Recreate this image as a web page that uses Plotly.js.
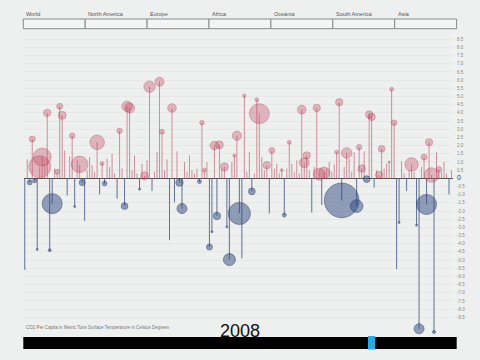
<!DOCTYPE html>
<html><head><meta charset="utf-8">
<script src="https://cdn.plot.ly/plotly-3.0.1.min.js"></script>
<style>html,body{margin:0;padding:0;background:#eef0ef;}#chart{width:480px;height:360px;}</style>
</head><body><div id="chart"></div>
<script>
const regions = ["World","North America","Europe","Africa","Oceania","South America","Asia"];
const year = "2008";
const caption = "CO2 Per Capita in Metric Tons Surface Temperature in Celsius Degrees";

// surface temperature change per country (stem height)
const temperature = [
 -5.6, 1.16, -0.25, 2.4, -0.15, -4.35, 0.7, 1.3, 0.9, 4.0,
 -4.4, -1.55, 0.6, 0.4, 4.4, 3.85, 1.7, -1.05, 1.35, 2.6,
 -1.73, 1.1, 0.85, -0.26, -2.6, 0.5, 1.3, 0.8, 0.4, 2.2,
 -0.98, 0.9, -0.32, 1.2, 0.7, 1.5, 0.3, -1.25, 2.9, 0.6,
 -1.7, 4.4, 4.3, 0.5, 1.4, 0.3, -0.67, 0.9, 0.15, 1.1,
 5.6, -0.78, 0.4, 1.6, 5.9, 2.85, 0.5, 1.15, -3.78, 4.3,
 -1.48, 1.65, -0.26, -1.85, 1.0, 0.4, 1.4, 0.5, 0.3, 0.6,
 -0.2, 3.4, 0.5, 1.0, -4.2, -3.27, 2.0, -2.3, 2.05, 0.6,
 0.7, -2.97, -4.97, 1.0, 1.4, 2.6, -2.15, -4.9, 5.05, 0.4,
 1.6, -0.8, 0.3, 4.8, 3.95, 1.3, 0.5, 0.8, -2.15, 1.7,
 0.6, 0.9, 0.3, 0.5, -2.25, 0.6, 2.2, 0.9, 0.4, 1.1,
 0.3, 4.2, 0.95, 1.4, 0.5, -2.1, 0.7, 4.3, 0.25, -1.63,
 0.35, 0.6, 1.0, 0.4, 0.85, 1.6, 4.65, -1.35, 0.7, 1.55,
 1.2, 0.4, 1.6, -1.7, 1.9, 0.6, 1.65, -0.05, 3.9, 3.75,
 -0.57, 0.5, 0.2, 1.8, 0.6, 0.9, 1.0, 5.45, 3.4, -5.55,
 -2.7, 1.05, 0.3, -0.78, 0.5, 0.85, 0.4, -2.87, -9.2, 0.7,
 1.3, -1.6, 2.2, 0.2, -9.4, 1.6, 0.55, 0.4, 1.0, 0.3,
 -0.98, 0.5
];
// CO2 per capita (circle area)
const co2PerCapita = [
 0, 0, 0.8, 1.2, 0.5, 0.13, 16.1, 10.8, 0, 1.8,
 0.3, 13.3, 0, 0.8, 1.2, 2.1, 0, 0, 0, 1.0,
 0.13, 0, 9.2, 1.2, 0, 0, 0, 0, 0, 7.1,
 0, 0.5, 0.7, 0, 0, 0, 0, 0, 1.0, 0,
 1.5, 3.7, 3.3, 0, 0, 0, 0.13, 0, 2.1, 0,
 4.3, 0, 0, 0, 2.7, 0.8, 0, 0, 0, 2.5,
 0, 0, 1.8, 3.3, 0, 0, 0, 0, 0, 0,
 0.5, 0.7, 0.5, 0, 1.2, 0.13, 2.5, 1.8, 2.1, 0,
 2.1, 0.13, 4.8, 0, 0.3, 2.9, 16.1, 0, 0.4, 0,
 0, 1.5, 0, 0.5, 13.3, 0, 0, 1.8, 0, 1.2,
 0, 0, 0, 0.3, 0.5, 0, 0.5, 0, 0, 0,
 0, 2.5, 3.3, 1.8, 0, 0, 0, 1.8, 4.8, 0,
 4.3, 0, 0, 0, 0, 0.5, 1.8, 39.9, 0, 3.7,
 0, 0, 0, 5.3, 1.0, 1.8, 0, 1.5, 1.8, 1.8,
 0, 0, 1.8, 1.5, 0, 0, 0.13, 0.5, 1.0, 0,
 0.13, 0, 0, 0, 0, 6.0, 0, 0.13, 3.3, 0,
 1.2, 13.3, 1.8, 7.1, 0.3, 0, 1.0, 0, 0, 0,
 0, 0
];
const yTickValues = [-8.5,-8,-7.5,-7,-6.5,-6,-5.5,-5,-4.5,-4,-3.5,-3,-2.5,-2,-1.5,-1,-0.5,0,
  0.5,1,1.5,2,2.5,3,3.5,4,4.5,5,5.5,6,6.5,7,7.5,8,8.5];
const yTickLabels = ["-8.5","-8.0","-7.5","-7.0","-6.5","-6.0","-5.5","-5.0","-4.5","-4.0","-3.5","-3.0","-2.5","-2.0","-1.5","-1.0","-0.5","<span style='font-size:7px;color:#333'>0</span>",
  "0.5","1.0","1.5","2.0","2.5","3.0","3.5","4.0","4.5","5.0","5.5","6.0","6.5","7.0","7.5","8.0","8.5"];

const RED_STEM = 'rgba(185,75,100,0.6)', BLUE_STEM = 'rgba(70,90,130,0.85)';
const RED_FILL = 'rgba(195,70,95,0.5)', RED_LINE = 'rgba(175,60,85,0.5)';
const BLUE_FILL = 'rgba(50,75,130,0.72)', BLUE_LINE = 'rgba(40,60,110,0.8)';

function stems(sign){
  const xs=[], ys=[];
  temperature.forEach((v,i)=>{ if((sign>0 && v>0)||(sign<0 && v<0)){ xs.push(i,i,null); ys.push(0,v,null);} });
  return {x:xs,y:ys};
}
function bubbles(sign){
  const xs=[], ys=[], s=[];
  temperature.forEach((v,i)=>{ if(co2PerCapita[i]>0 && ((sign>0 && v>0)||(sign<0 && v<0))){ xs.push(i); ys.push(v); s.push(co2PerCapita[i]); } });
  return {x:xs,y:ys,s:s};
}
const ps = stems(1), ns = stems(-1), pb = bubbles(1), nb = bubbles(-1);
const traces = [
  {type:'scatter',mode:'lines',x:ps.x,y:ps.y,line:{color:RED_STEM,width:1},hoverinfo:'skip',connectgaps:false},
  {type:'scatter',mode:'lines',x:ns.x,y:ns.y,line:{color:BLUE_STEM,width:1},hoverinfo:'skip',connectgaps:false},
  {type:'scatter',mode:'markers',x:pb.x,y:pb.y,marker:{size:pb.s,sizemode:'area',sizeref:1/15,color:RED_FILL,line:{color:RED_LINE,width:1}}},
  {type:'scatter',mode:'markers',x:nb.x,y:nb.y,marker:{size:nb.s,sizemode:'area',sizeref:1/15,color:BLUE_FILL,line:{color:BLUE_LINE,width:1}}}
];

// layout helpers (pixel -> paper)
const L=24, R=453, T=35, B=335;
const px = v => (v-L)/(R-L), py = v => (B-v)/(B-T);
const shapes = [], annotations = [];
const boxLeft = 23.3, boxW = 61.9;
regions.forEach((r,i)=>{
  const x0 = boxLeft + i*boxW;
  shapes.push({type:'rect',xref:'paper',yref:'paper',x0:px(x0),x1:px(x0+boxW),y0:py(28.7),y1:py(19),
    line:{color:'#8a8a8a',width:1},fillcolor:'#f3f4f4',layer:'above'});
  annotations.push({xref:'paper',yref:'paper',x:px(x0+1),y:py(14.3),text:r,showarrow:false,xanchor:'left',yanchor:'middle',
    font:{family:'Liberation Sans, Arial, sans-serif',size:5.5,color:'#555'}});
});
// slider bar
shapes.push({type:'rect',xref:'paper',yref:'paper',x0:px(23.3),x1:px(456.7),y0:py(349),y1:py(337),line:{width:0},fillcolor:'#000',layer:'above'});
shapes.push({type:'rect',xref:'paper',yref:'paper',x0:px(368),x1:px(375),y0:py(349.5),y1:py(336),line:{width:0},fillcolor:'#2aa8e4',layer:'above'});
annotations.push({xref:'paper',yref:'paper',x:px(240),y:py(331),text:year,showarrow:false,xanchor:'center',yanchor:'middle',
  font:{family:'Liberation Sans, Arial, sans-serif',size:18,color:'#111'}});
annotations.push({xref:'paper',yref:'paper',x:0,y:py(327.5),text:caption,showarrow:false,xanchor:'left',yanchor:'middle',
  font:{family:'Liberation Sans, Arial, sans-serif',size:4.5,color:'#777'}});

const layout = {
  width:480,height:360,
  margin:{l:L,r:480-R,t:T,b:360-B,pad:0},
  paper_bgcolor:'#eef0ef',plot_bgcolor:'#eef0ef',
  showlegend:false,
  xaxis:{range:[-0.3,171.6],showgrid:false,zeroline:false,showticklabels:false,ticks:'',showline:false,fixedrange:true},
  yaxis:{range:[-9.58,8.76],side:'right',tickvals:yTickValues,ticktext:yTickLabels,ticklabelstandoff:3,
    tickfont:{family:'Liberation Sans, Arial, sans-serif',size:4.5,color:'#888'},
    showgrid:true,gridcolor:'rgba(0,0,0,0.03)',gridwidth:1,
    zeroline:true,zerolinecolor:'#555',zerolinewidth:1,showline:false,ticks:'',fixedrange:true},
  shapes:shapes,annotations:annotations
};
Plotly.newPlot('chart',traces,layout,{displayModeBar:false,staticPlot:true});
</script></body></html>
